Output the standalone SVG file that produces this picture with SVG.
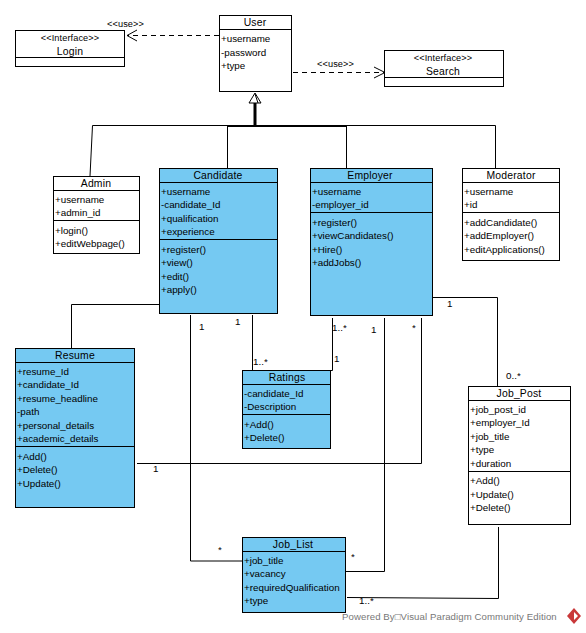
<svg xmlns="http://www.w3.org/2000/svg" width="586" height="633" viewBox="0 0 586 633">
<defs>
<style>
text{font-family:"Liberation Sans",Arial,sans-serif;font-size:9.8px;fill:#000}
.t{text-anchor:middle;font-size:10.4px;letter-spacing:.2px}
.s{font-size:9.2px;letter-spacing:.1px}
.b{fill:#fff;stroke:#000;stroke-width:1}
.c{fill:#75c9f2;stroke:#000;stroke-width:1}
.l{stroke:#000;stroke-width:1;fill:none}
.n{fill:none;stroke:#000;stroke-width:1}
.d{fill:none;stroke:#000;stroke-width:1;stroke-dasharray:5 4}
.wm{font-size:9.6px;fill:#777;letter-spacing:.1px}
</style>
</defs>
<rect width="586" height="633" fill="#fff"/>
<g id="connectors">
<path class="d" d="M219 35.500H127"/>
<path d="M137 30L127 35.500L137 41" class="n"/>
<path class="d" d="M293 72.500H384"/>
<path d="M374 67L385 72.500L374 78" class="n"/>
<path d="M255 103V126" stroke="#000" stroke-width="3" fill="none"/>
<path d="M227 126H346.500" stroke="#000" stroke-width="2" fill="none"/>
<path class="n" d="M90 176L92.500 125.500H495.500V168M227.500 125.500V168M346.500 125.500V168"/>
<path class="b" d="M255 93L249 103H261Z"/>
<path class="n" d="M255 94L258 103"/>
<path class="n" d="M161 304.500H71.500V348"/>
<path class="n" d="M190.500 315V561H242"/>
<path class="n" d="M252.500 315V370"/>
<path class="n" d="M332.500 318V370.500H330"/>
<path class="n" d="M384.500 318V571.500H346"/>
<path class="n" d="M421.500 318V463.500H137"/>
<path class="n" d="M433 297.500H497.500V386"/>
<path class="n" d="M498.500 527V598.500L347 597.500"/>
</g>
<g id="login"><rect class="b" x="15.500" y="30.500" width="109" height="36"/><path class="l" d="M15.500 57.500H124.500"/><text class="t s" x="70" y="41">&lt;&lt;Interface&gt;&gt;</text><text class="t" x="70" y="55">Login</text></g>
<g id="user"><rect class="b" x="219.500" y="15.500" width="72" height="76"/><path class="l" d="M219.500 29.500H291.500"/><text class="t" x="255" y="26">User</text><text x="221" y="42">+username</text><text x="221" y="55.500">-password</text><text x="221" y="69">+type</text></g>
<g id="search"><rect class="b" x="384.500" y="50.500" width="119" height="36"/><path class="l" d="M384.500 77.500H503.500"/><text class="t s" x="443" y="61">&lt;&lt;Interface&gt;&gt;</text><text class="t" x="443" y="75">Search</text></g>
<g id="admin"><rect class="b" x="53.500" y="176.500" width="86" height="77"/><path class="l" d="M53.500 190.500H139.500M53.500 220.500H139.500"/><text class="t" x="96" y="187">Admin</text><text x="55" y="203">+username</text><text x="55" y="216">+admin_id</text><text x="55" y="234">+login()</text><text x="55" y="247">+editWebpage()</text></g>
<g id="candidate"><rect class="c" x="159.500" y="168.500" width="118" height="145"/><path class="l" d="M159.500 182.500H277.500M159.500 239.500H277.500"/><text class="t" x="218" y="179">Candidate</text><text x="161" y="195">+username</text><text x="161" y="208">-candidate_Id</text><text x="161" y="222">+qualification</text><text x="161" y="235">+experience</text><text x="161" y="253">+register()</text><text x="161" y="266">+view()</text><text x="161" y="280">+edit()</text><text x="161" y="293">+apply()</text></g>
<g id="employer"><rect class="c" x="310.500" y="168.500" width="122" height="147"/><path class="l" d="M310.500 182.500H432.500M310.500 212.500H432.500"/><text class="t" x="370" y="179">Employer</text><text x="312" y="195">+username</text><text x="312" y="208">-employer_id</text><text x="312" y="226">+register()</text><text x="312" y="239">+viewCandidates()</text><text x="312" y="253">+Hire()</text><text x="312" y="266">+addJobs()</text></g>
<g id="moderator"><rect class="b" x="462.500" y="168.500" width="97" height="92"/><path class="l" d="M462.500 182.500H559.500M462.500 212.500H559.500"/><text class="t" x="511" y="179">Moderator</text><text x="464" y="195">+username</text><text x="464" y="208">+id</text><text x="464" y="226">+addCandidate()</text><text x="464" y="239">+addEmployer()</text><text x="464" y="253">+editApplications()</text></g>
<g id="resume"><rect class="c" x="15.500" y="348.500" width="119" height="159"/><path class="l" d="M15.500 362.500H134.500M15.500 446.500H134.500"/><text class="t" x="75" y="359">Resume</text><text x="17" y="375">+resume_Id</text><text x="17" y="388">+candidate_Id</text><text x="17" y="402">+resume_headline</text><text x="17" y="415">-path</text><text x="17" y="429">+personal_details</text><text x="17" y="442">+academic_details</text><text x="17" y="460">+Add()</text><text x="17" y="473">+Delete()</text><text x="17" y="487">+Update()</text></g>
<g id="ratings"><rect class="c" x="242.500" y="370.500" width="88" height="78"/><path class="l" d="M242.500 384.500H330.500M242.500 414.500H330.500"/><text class="t" x="287" y="381">Ratings</text><text x="244" y="397">-candidate_Id</text><text x="244" y="410">-Description</text><text x="244" y="428">+Add()</text><text x="244" y="441">+Delete()</text></g>
<g id="job_post"><rect class="b" x="468.500" y="386.500" width="102" height="138"/><path class="l" d="M468.500 400.500H570.500M468.500 471.500H570.500"/><text class="t" x="519" y="397">Job_Post</text><text x="470" y="413">+job_post_id</text><text x="470" y="426">+employer_Id</text><text x="470" y="440">+job_title</text><text x="470" y="453">+type</text><text x="470" y="467">+duration</text><text x="470" y="484">+Add()</text><text x="470" y="498">+Update()</text><text x="470" y="511">+Delete()</text></g>
<g id="job_list"><rect class="c" x="242.500" y="537.500" width="103" height="75"/><path class="l" d="M242.500 551.500H345.500"/><text class="t" x="293" y="548">Job_List</text><text x="244" y="564">+job_title</text><text x="244" y="577">+vacancy</text><text x="244" y="591">+requiredQualification</text><text x="244" y="604">+type</text></g>
<g id="labels">
<text class="s" x="107" y="27">&lt;&lt;use&gt;&gt;</text>
<text class="s" x="317" y="67">&lt;&lt;use&gt;&gt;</text>
<text x="199" y="330">1</text><text x="235" y="325">1</text>
<text x="253" y="365">1..*</text>
<text x="332" y="331">1..*</text><text x="371" y="333">1</text><text x="412" y="331">*</text>
<text x="334" y="362">1</text>
<text x="447" y="307">1</text>
<text x="506" y="379">0..*</text>
<text x="153" y="472">1</text>
<text x="218" y="553">*</text>
<text x="351" y="560">*</text>
<text x="359" y="604">1..*</text>
</g>
<g id="watermark"><text class="wm" x="342" y="620">Powered By□Visual Paradigm Community Edition</text><path d="M574 608L581 616L574 624L567 616Z" fill="#c9383a"/><path d="M574 612L578 616L574 620" fill="#fff"/></g>
</svg>
